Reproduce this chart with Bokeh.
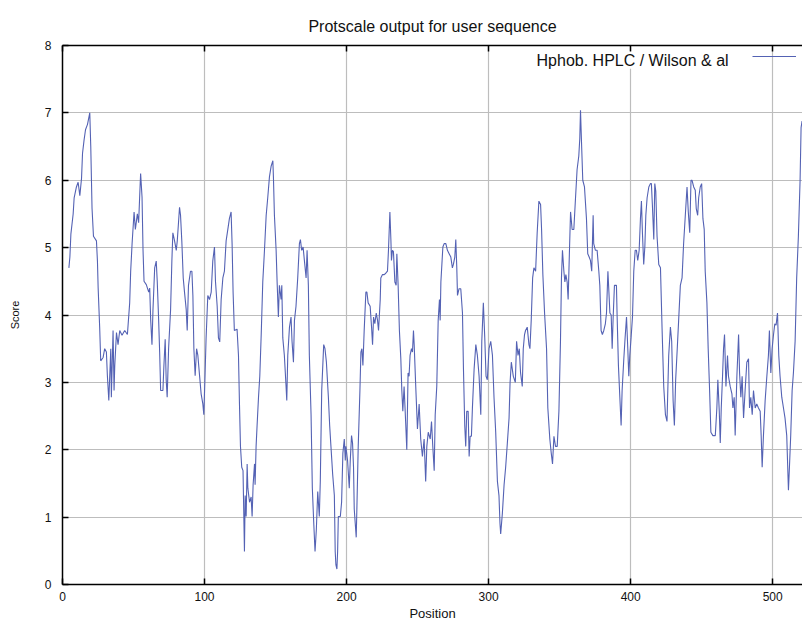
from bokeh.plotting import figure
from bokeh.models import Range1d, LinearAxis, FixedTicker, Label, Legend, LegendItem
from bokeh.embed import file_html
from bokeh.resources import INLINE

title_text = "Protscale output for user sequence"
series_name = "Hphob. HPLC / Wilson & al"
x_label = "Position"
y_label = "Score"
x_ticks = [0, 100, 200, 300, 400, 500]
y_ticks = [0, 1, 2, 3, 4, 5, 6, 7, 8]

positions = [
    4.5, 5.2, 5.9, 7.5, 8.2, 9.8, 11, 12.2, 13.4, 14.1, 15.2, 16.2, 17.6, 19.2, 19.9, 20.8, 21.8, 23.9, 24.6, 25.1,
    26.2, 26.9, 28.6, 29.7, 30.9, 31.6, 32.6, 34, 34.4, 35.6, 36.3, 36.8, 38, 39.1, 40.3, 41.9, 43.8, 45.7, 47.3, 48,
    49, 50.4, 51.3, 52.7, 53.6, 54.3, 55, 56, 56.7, 57.4, 59, 60.7, 61.4, 62.1, 63, 63.7, 64.9, 66,
    66.7, 67.7, 68.4, 69.1, 70.7, 71.4, 72.3, 73, 73.7, 74.7, 76.1, 77, 77.7, 78.9, 80.1, 80.8, 81.7, 82.4, 83.1, 84,
    85, 85.9, 87.1, 87.8, 88.7, 90.1, 91.1, 91.8, 92.5, 93.4, 94.4, 95.3, 96.5, 97.6, 98.8, 99.5, 100.4, 101.1, 102.3,
    103.5, 104.7, 105.8, 107, 107.7, 108.9, 109.8, 110.7, 111.7, 112.9, 114, 115.2, 116.4, 117.5, 118.7, 119.4, 120.1,
    121, 122.9, 123.9, 124.6, 125.3, 126.2, 127.1, 128.1,
    128.6, 129.3, 130, 130.5, 131.7, 132.8, 133.5, 134.2, 135.2, 135.6, 136.3, 137, 138, 138.9, 139.9, 141, 142.2,
    143.4, 144.5, 145.7, 146.9, 148.1, 148.5, 149.2, 150.4, 151.1, 152, 152.7, 153.9, 154.4, 155.1, 156.2, 157.4,
    157.9, 158.6, 159.8, 160.9, 161.6, 162.6, 163.3, 164.4, 165.6, 166.8, 167.5, 168.4, 169.4, 170.3, 171.5, 172.2,
    173.1, 173.8, 175, 175.9, 176.9, 177.8, 178.7, 179.7, 180.8, 181.5, 182.5, 183.9, 184.8, 185.8, 187.2, 188.1,
    189, 190.2, 191.4, 192,
    192.5, 193.2, 193.7, 194.2, 195.6, 196.5, 197.4, 198.4, 199.1, 199.5, 200.7, 201.9, 202.6, 203.5, 204.2, 204.9,
    205.4, 206.1, 206.8, 207.3, 208.2, 209.4, 210.1, 210.8, 211.5, 212.4, 213.6, 214.3, 215.2, 216.6, 217.6, 218.3,
    219, 219.9, 220.9, 221.8, 222.5, 223.7, 224.1, 225.3, 226.5, 227.6, 228.8, 229.5, 230.5, 231.2, 231.6, 232.3,
    233, 234, 234.9, 235.4, 236.3, 237.2, 238.2, 238.9, 239.6, 240.5, 241.7, 242.4, 243.3, 244, 244.7, 245.7, 246.4,
    247.1, 247.6, 248.7, 249.9, 251.1, 252.2, 253.4, 254.6, 255.7,
    256.5, 257.5, 258.9, 259.8, 260.7, 261.7, 262.4, 263.5, 264.5, 265.4, 265.9, 266.4, 267.1, 267.8, 268.7, 269.9,
    271, 272.2, 273.4, 274.5, 275.2, 276.2, 276.9, 277.6, 278.1, 279.2, 280.4, 281.6, 282.3, 283.2, 283.9, 284.6,
    285.6, 286.3, 287, 287.9, 288.6, 289.8, 291, 292.1, 293.3, 294.5, 295.2, 296.3, 297.3, 298.2, 299.1, 300.3,
    301.5, 302.7, 303.8, 305, 306.2, 307.3, 308, 308.5, 309.7, 310.9, 312, 313.2, 314.4, 315.1, 316, 317.4, 318.8,
    319.7, 320.7, 321.6, 322.5, 323.7, 324.4, 325.3, 326, 327.2, 328.4, 329.1, 330, 331, 331.9, 333.1, 334.2, 335.4,
    336.6, 337.3, 338.2, 339.4, 340.8, 341.7, 343.1, 344.1, 345, 346, 347.1, 348.3, 349.5, 350.6, 351.3, 352, 353,
    353.7, 354.4, 355.3, 356, 357, 357.7, 358.8, 360, 361.2, 362.3, 363.5, 364.2, 364.7, 365.4, 366.3, 367.5, 368.9,
    369.8, 370.8, 371.7, 372.6, 373.6, 374, 375.2, 376.4, 377.6, 378.3, 379.2, 380.1, 381.1, 382.2,
    383, 384, 384.7, 385.4, 386.3, 387, 387.7, 388.6, 390, 390.5, 391.4, 392.4, 393.3, 394, 395.2, 396.1, 397.1, 398,
    398.7, 399.4, 400.3, 401.3, 402.2, 403.2, 404.1, 405, 406, 406.9, 407.6, 408.3, 409.2, 410, 410.7, 411.6, 412.8,
    413.9, 414.6, 415.3, 416.3, 417, 417.7, 418.6, 419.8, 421, 422.1, 423.3, 424.5, 425.6, 426.8, 428, 428.9, 429.9,
    430.8, 431.7, 432.7, 433.8, 435, 436.2, 437.3, 438.5, 439.7, 440.6, 441.6, 442.5, 443.2, 444.4, 445.5,
    446.2, 447.2, 447.9, 449, 450, 450.9, 451.8, 452.5, 453.7, 454.6, 455.6, 456.5, 457.9, 459.6, 460.7, 461.4, 462.4,
    463.1, 463.8, 464.7, 465.4, 466.1, 467.1, 468.2, 468.9, 470.1, 471.3, 472, 472.9, 473.6, 474.8, 476, 476.7,
    477.6, 478.5, 479.5, 480.6, 481.8, 483, 483.7, 484.6, 485.6, 486.5, 487.7, 488.8, 490, 491.2, 491.9, 492.6,
    493.5, 494.7, 495.9, 497, 497.7, 498.7, 499.6, 500.6, 501.5, 502.4, 503.4, 504.3, 505.2, 506.4, 507.6, 508.7,
    509.9, 511.1, 511.8, 512.7, 513.7, 514.6, 515.8, 516.9, 518.1, 519.3, 520, 520.7,
]

scores = [
    4.7, 4.86, 5.2, 5.5, 5.74, 5.9, 5.97, 5.77, 6.03, 6.4, 6.6, 6.75, 6.83, 7.0, 6.5, 5.58, 5.17, 5.1, 4.8, 4.4,
    3.8, 3.32, 3.37, 3.5, 3.45, 3.1, 2.73, 3.5, 2.78, 3.77, 2.88, 3.25, 3.74, 3.56, 3.77, 3.7, 3.77, 3.71, 4.18, 4.65,
    5.06, 5.53, 5.27, 5.5, 5.37, 5.74, 6.1, 5.75, 4.96, 4.5, 4.45, 4.34, 4.4, 3.92, 3.56, 4.08, 4.7, 4.8,
    4.5, 3.92, 3.45, 2.88, 2.88, 3.25, 3.64, 3.04, 2.78, 3.5, 4.08, 4.8, 5.22, 5.1, 4.96, 5.1, 5.38, 5.6, 5.48, 5.1,
    4.55, 4.34, 4.08, 3.77, 4.44, 4.65, 4.65, 4.29, 3.5, 3.1, 3.5, 3.4, 3.1, 2.83, 2.68, 2.52, 3.14, 3.66, 4.29,
    4.23, 4.34, 4.8, 5.01, 4.5, 4.13, 3.66, 3.6, 4.23, 4.55, 4.65, 5.1, 5.27, 5.43, 5.53, 5.06, 4.34,
    3.77, 3.79, 3.4, 2.68, 2.05, 1.74, 1.69, 0.49,
    1.32, 1.01, 1.79, 1.43, 1.22, 1.3, 1.01, 1.48, 1.79, 1.48, 2.05, 2.36, 2.78, 3.09, 3.71, 4.49, 4.96,
    5.48, 5.74, 6.05, 6.21, 6.29, 6.05, 5.48, 4.96, 4.49, 3.97, 4.44, 4.23, 4.44, 3.66, 3.4, 2.94,
    2.73, 3.4, 3.82, 3.97, 3.61, 3.3, 3.92, 4.13, 4.55, 5.06, 5.12, 4.96, 5.01, 4.81, 4.55, 4.96,
    4.44, 3.4, 2.52, 1.43, 0.91, 0.49, 0.81, 1.38, 1.01, 1.53, 2.88, 3.56, 3.5, 3.3, 2.78, 2.36,
    2.05, 1.64, 1.32, 0.49,
    0.29, 0.23, 0.49, 1.01, 1.01, 1.22, 1.95, 2.16, 1.84, 2.05, 1.84, 1.43, 1.84, 2.21, 2.1, 1.74,
    1.12, 0.91, 0.7, 1.17, 2.05, 2.88, 3.45, 3.5, 3.25, 3.77, 4.34, 4.34, 4.18, 4.13, 3.82, 3.56,
    3.97, 3.87, 4.03, 3.92, 3.77, 4.23, 4.55, 4.6, 4.6, 4.62, 4.65, 4.96, 5.53, 5.12, 4.81, 4.96,
    4.94, 4.49, 4.44, 4.91, 4.44, 3.77, 3.35, 2.88, 2.57, 2.94, 2.36, 2.0, 3.14, 3.09, 3.4, 3.5, 3.45,
    3.77, 3.56, 2.94, 2.31, 2.68, 2.16, 1.9, 2.16, 1.53,
    2.05, 2.26, 2.16, 2.42, 2.05, 1.69, 2.52, 2.94, 3.92, 4.23, 3.92, 4.49, 4.75, 5.01, 5.06, 5.06,
    4.96, 4.91, 4.86, 4.7, 4.75, 4.86, 5.12, 4.7, 4.29, 4.39, 4.39, 4.03, 3.2, 2.36, 2.05, 2.57,
    2.57, 1.9, 2.2, 2.2, 2.62, 3.2, 3.56, 3.4, 3.09, 2.52, 3.61, 4.18, 3.66, 3.09, 3.04, 3.5,
    3.61, 3.4, 2.78, 2.26, 1.53, 1.32, 0.91, 0.75, 1.06, 1.48, 1.74, 2.1, 2.47, 2.99, 3.3, 3.09, 3.0,
    3.61, 3.4, 3.5, 3.14, 2.94, 3.5, 3.71, 3.77, 3.82, 3.56, 3.5, 3.92, 4.55, 4.7, 4.65, 5.22, 5.69,
    5.64, 5.27, 4.6, 4.03, 3.5, 2.62, 2.16, 1.95, 1.79, 2.2, 2.05, 2.05, 2.57, 3.61, 4.55, 4.96, 4.65,
    4.49, 4.6, 4.49, 4.23, 5.01, 5.53, 5.27, 5.27, 5.74, 6.16, 6.36, 6.62, 7.04, 6.57, 6.0, 5.9, 5.43,
    4.91, 4.86, 4.81, 4.65, 5.48, 5.06, 4.96, 4.96, 4.65, 4.44, 3.77, 3.71, 3.77, 3.87,
    4.03, 4.65, 4.34, 4.03, 4.0, 3.5, 3.97, 4.44, 4.44, 3.97, 3.25, 2.78, 2.36, 2.88, 3.35, 3.66, 3.97, 3.5,
    3.09, 3.4, 3.66, 3.97, 4.65, 4.96, 4.96, 4.81, 4.96, 5.43, 5.69, 5.22, 4.75, 5.01, 5.48, 5.74, 5.9,
    5.95, 5.95, 5.64, 5.12, 5.95, 5.84, 5.17, 4.75, 4.7, 3.82, 2.94, 2.52, 2.42, 3.4, 3.82, 3.61, 2.73,
    2.36, 3.04, 3.45, 3.92, 4.44, 4.55, 5.06, 5.48, 5.9, 5.53, 5.22, 6.0, 6.0, 5.9, 5.85,
    5.58, 5.48, 5.74, 5.9, 5.95, 5.43, 5.27, 4.65, 4.18, 3.5, 2.88, 2.26, 2.21, 2.21, 2.62, 3.04, 2.57,
    2.1, 2.62, 3.09, 3.5, 3.71, 2.94, 3.4, 3.09, 2.94, 2.83, 2.62, 2.78, 2.21, 3.09, 3.71, 3.14,
    2.78, 3.09, 2.47, 2.88, 3.3, 3.35, 2.62, 2.78, 2.52, 2.88, 2.62, 2.68, 2.62, 2.57, 2.21, 1.74,
    2.21, 2.73, 3.09, 3.4, 3.77, 3.14, 3.5, 3.71, 3.87, 3.85, 4.03, 3.4, 3.09, 2.78, 2.62, 2.47,
    2.21, 1.4, 1.74, 2.21, 2.88, 3.14, 3.61, 4.55, 5.17, 6.0, 6.78, 6.88,
]

FONT = "Liberation Sans"
LINE_COLOR = "#5462b4"

p = figure(width=802, height=623, output_backend="svg", toolbar_location=None,
           x_range=Range1d(0, 521), y_range=Range1d(0, 8),
           min_border_left=62, min_border_right=0, min_border_top=45, min_border_bottom=39,
           x_axis_label=x_label, y_axis_label=y_label)

p.title.text = title_text
p.title.align = "center"
p.title.text_font = FONT
p.title.text_font_size = "16px"
p.title.text_font_style = "normal"
p.title.text_color = "#111111"
p.title.standoff = 22

p.outline_line_color = None
p.background_fill_color = "white"
p.border_fill_color = "white"

for ax in (p.xaxis[0], p.yaxis[0]):
    ax.axis_line_color = "black"
    ax.axis_line_width = 1.5
    ax.major_tick_line_color = "black"
    ax.major_tick_line_width = 1.5
    ax.major_tick_in = 6
    ax.major_tick_out = 0
    ax.minor_tick_line_color = None
    ax.major_label_text_font = FONT
    ax.major_label_text_font_size = "12px"
    ax.major_label_text_color = "#111111"
    ax.axis_label_text_font = FONT
    ax.axis_label_text_font_style = "normal"
    ax.axis_label_text_color = "#111111"

p.xaxis[0].ticker = FixedTicker(ticks=x_ticks)
p.yaxis[0].ticker = FixedTicker(ticks=y_ticks)
p.xaxis[0].major_label_standoff = 7
p.xaxis[0].axis_label_standoff = 2
p.xaxis[0].axis_label_text_font_size = "13px"
p.yaxis[0].major_label_standoff = 11
p.yaxis[0].axis_label_standoff = 21
p.yaxis[0].axis_label_text_font_size = "11px"

top_axis = LinearAxis(ticker=FixedTicker(ticks=x_ticks),
                      major_label_overrides={t: "" for t in x_ticks},
                      major_label_text_font_size="1px", major_label_standoff=0,
                      axis_line_color="black", axis_line_width=1.5,
                      major_tick_line_color="black", major_tick_line_width=1.5,
                      major_tick_in=6, major_tick_out=0, minor_tick_line_color=None)
p.add_layout(top_axis, "above")

p.xgrid.ticker = FixedTicker(ticks=x_ticks)
p.ygrid.ticker = FixedTicker(ticks=y_ticks)
p.grid.grid_line_color = "#bdbdbd"
p.grid.grid_line_width = 1.2

r = p.line(positions, scores, line_color=LINE_COLOR, line_width=1.1)

legend_text = Label(x=469, y=7.78, text=series_name, text_align="right",
                    text_baseline="middle", text_font=FONT, text_font_size="16px",
                    text_color="#111111", background_fill_color="white")
p.add_layout(legend_text)

legend = Legend(items=[LegendItem(label=" ", renderers=[r])], location="top_right",
                glyph_width=44, glyph_height=10, label_width=0, label_height=10,
                label_standoff=0, padding=6, margin=6, spacing=0,
                border_line_color=None, background_fill_alpha=0,
                label_text_font_size="1px")
p.add_layout(legend)

open("out.html", "w").write(file_html(p, INLINE))
